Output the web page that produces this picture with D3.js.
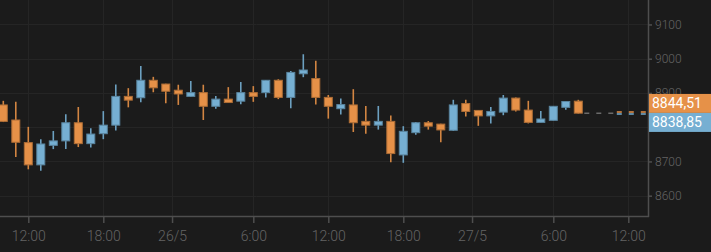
<!DOCTYPE html>
<html>
<head>
<meta charset="utf-8">
<script src="https://cdn.jsdelivr.net/npm/d3@7"></script>
<style>
  html, body { margin: 0; background: #1b1b1b; }
  svg { display: block; }
</style>
</head>
<body>
<div id="chart"></div>
<script>
// hourly candles, index 0 = 25/5 10:00
const opens  = [8865, 8821, 8755, 8690, 8747, 8760, 8813, 8752, 8781, 8806, 8890, 8886, 8937, 8926, 8908, 8890,
                8901, 8861, 8882, 8876, 8901, 8901, 8937, 8887, 8956, 8942, 8887, 8854, 8865, 8817, 8806, 8817,
                8719, 8784, 8813, 8809, 8791, 8869, 8849, 8833, 8844, 8885, 8850, 8814, 8820, 8858, 8876];
const highs  = [8877, 8874, 8801, 8765, 8789, 8838, 8859, 8797, 8847, 8925, 8914, 8979, 8947, 8927, 8924, 8935,
                8924, 8891, 8917, 8932, 8920, 8938, 8940, 8964, 9013, 8994, 8894, 8884, 8911, 8862, 8862, 8834,
                8803, 8815, 8818, 8810, 8880, 8880, 8850, 8859, 8894, 8887, 8877, 8847, 8862, 8876, 8880];
const lows   = [8815, 8713, 8677, 8673, 8736, 8736, 8742, 8741, 8765, 8790, 8858, 8873, 8902, 8870, 8865, 8889,
                8821, 8854, 8871, 8867, 8874, 8887, 8882, 8855, 8946, 8866, 8825, 8837, 8786, 8781, 8793, 8698,
                8696, 8778, 8793, 8756, 8789, 8831, 8804, 8811, 8835, 8846, 8811, 8813, 8819, 8851, 8840];
const closes = [8817, 8756, 8690, 8751, 8760, 8813, 8752, 8780, 8806, 8890, 8879, 8937, 8915, 8905, 8897, 8901,
                8861, 8882, 8872, 8901, 8890, 8937, 8887, 8960, 8967, 8887, 8861, 8866, 8813, 8806, 8817, 8723,
                8788, 8813, 8803, 8792, 8865, 8846, 8833, 8846, 8885, 8850, 8814, 8824, 8861, 8875, 8841];

const xTickIdx    = [2, 8, 13.5, 20, 26, 32, 37.5, 44, 50];
const xTickLabels = ['12:00', '18:00', '26/5', '6:00', '12:00', '18:00', '27/5', '6:00', '12:00'];
const yTicks      = [8600, 8700, 8800, 8900, 9000, 9100];

const priceLabels = ['8844,51', '8838,85'];
const priceValues = [8844.51, 8838.85];
const priceLineStart = 49;   // index where the live price lines begin

const W = 711, H = 252;
const plotW = 648, plotH = 216;
const UP = '#76afd2', DOWN = '#e69148';
const BG = '#1b1b1b', GRID = '#252525', AXIS = '#4e4e4e', TEXT = '#646464';

const x = d3.scaleLinear().domain([-0.264, 51.576]).range([0, plotW]);
const y = d3.scaleLinear().domain([8540.7, 9171.4]).range([plotH, 0]);

const svg = d3.select('#chart').append('svg')
  .attr('width', W).attr('height', H)
  .style('font-family', 'Roboto, sans-serif');

svg.append('rect').attr('width', W).attr('height', H).attr('fill', BG);

// Grid
const grid = svg.append('g');
grid.selectAll('line.h').data(yTicks).join('line')
  .attr('x1', 0).attr('x2', plotW)
  .attr('y1', d => Math.round(y(d)) + 0.5).attr('y2', d => Math.round(y(d)) + 0.5)
  .attr('stroke', GRID);
grid.selectAll('line.v').data(xTickIdx).join('line')
  .attr('y1', 0).attr('y2', plotH)
  .attr('x1', d => Math.round(x(d)) + 0.5).attr('x2', d => Math.round(x(d)) + 0.5)
  .attr('stroke', GRID);

// Candles
const candles = opens.map((o, i) => ({ i, o, h: highs[i], l: lows[i], c: closes[i] }));
const cg = svg.append('g');
cg.selectAll('line.wick').data(candles).join('line')
  .attr('x1', d => x(d.i)).attr('x2', d => x(d.i))
  .attr('y1', d => y(d.h)).attr('y2', d => y(d.l))
  .attr('stroke', d => d3.color(d.c >= d.o ? UP : DOWN).darker(0.25))
  .attr('stroke-width', 1.6);
cg.selectAll('rect.body').data(candles).join('rect')
  .attr('x', d => x(d.i) - 4)
  .attr('width', 8)
  .attr('y', d => y(Math.max(d.o, d.c)))
  .attr('height', d => Math.max(1, Math.abs(y(d.o) - y(d.c))))
  .attr('fill', d => d.c >= d.o ? UP : DOWN)
  .attr('stroke', d => d3.color(d.c >= d.o ? UP : DOWN).darker(0.8))
  .attr('stroke-width', 1);

// Last-close line and live price lines
const last = candles[candles.length - 1];
svg.append('line')
  .attr('x1', x(last.i) + 6).attr('x2', x(priceLineStart))
  .attr('y1', y(last.c)).attr('y2', y(last.c))
  .attr('stroke', '#6a6a6a').attr('stroke-width', 1.5)
  .attr('stroke-dasharray', '5,7');
[DOWN, UP].forEach((col, k) => {
  svg.append('line')
    .attr('x1', x(priceLineStart) + 1).attr('x2', plotW)
    .attr('y1', y(priceValues[k])).attr('y2', y(priceValues[k]))
    .attr('stroke', col).attr('stroke-width', 1.5)
    .attr('stroke-dasharray', '5,7');
});

// Axes
const yAxis = svg.append('g').attr('transform', `translate(${plotW},0)`)
  .call(d3.axisRight(y).tickValues(yTicks).tickSize(4).tickPadding(3).tickFormat(d3.format('d')));
const xAxis = svg.append('g').attr('transform', `translate(0,${plotH})`)
  .call(d3.axisBottom(x).tickValues(xTickIdx).tickSize(7).tickPadding(8).tickFormat((d, i) => xTickLabels[i]));
[xAxis, yAxis].forEach(ax => {
  ax.select('.domain').remove();
  ax.selectAll('line').attr('stroke', AXIS).attr('stroke-width', 1.5);
  ax.selectAll('text').attr('fill', TEXT).attr('font-weight', 300).attr('font-family', 'Roboto, sans-serif');
});
yAxis.selectAll('text').attr('font-size', 12);
xAxis.selectAll('text').attr('font-size', 14);

svg.append('line').attr('x1', plotW + 0.5).attr('x2', plotW + 0.5).attr('y1', 0).attr('y2', plotH + 1)
  .attr('stroke', AXIS).attr('stroke-width', 1.5);
svg.append('line').attr('x1', 0).attr('x2', plotW + 1).attr('y1', plotH + 0.5).attr('y2', plotH + 0.5)
  .attr('stroke', AXIS).attr('stroke-width', 1.5);

// Price labels, stacked around the midpoint of the two values
const mid = (y(priceValues[0]) + y(priceValues[1])) / 2;
const boxH = 19;
// tick labels fully hidden under the price boxes are not drawn
yAxis.selectAll('.tick').filter(d => y(d) > mid - boxH + 6 && y(d) < mid + boxH).select('text').remove();
[DOWN, UP].forEach((col, k) => {
  const top = k === 0 ? mid - boxH : mid;
  svg.append('rect').attr('x', plotW + 1).attr('y', top).attr('width', W - plotW).attr('height', boxH)
    .attr('fill', col);
  svg.append('text').attr('x', plotW + 4).attr('y', top + boxH / 2).attr('dy', '0.36em')
    .attr('fill', '#fff').attr('font-size', 14).text(priceLabels[k]);
});
</script>
</body>
</html>
